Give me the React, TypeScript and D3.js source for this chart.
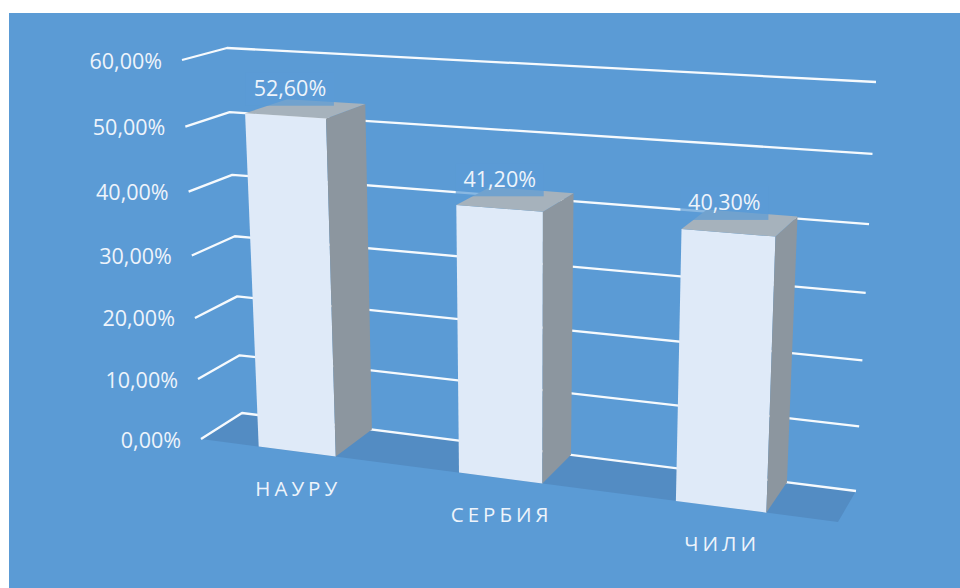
import React from 'react';
import * as d3 from 'd3';

const categories = ['НАУРУ', 'СЕРБИЯ', 'ЧИЛИ'];
const values = [52.6, 41.2, 40.3];
const ticks = [0, 10, 20, 30, 40, 50, 60];

const FONT = '"Open Sans", Lato, sans-serif';
const TEXT = '#eef4fb';

// the 3D plot box as it lands on screen
const frontLeft = { base: [201, 439], top: [182, 60] };
const frontRight = { base: [838, 522], top: [856, 97] };
const backLeft = { base: [242, 413], top: [227, 48] };
const backRight = { base: [856, 491], top: [876, 82] };

// perspective foreshortening along the category and the value axis
const warp = (t: number, c: number) => t / (t + c * (1 - t));

const band = d3.scaleBand<string>().domain(categories).range([0, 1]).paddingInner(0.606).paddingOuter(0.303);
const vScale = d3.scaleLinear().domain([0, 60]).range([0, 1]);
const fmt = d3.formatLocale({ decimal: ',', thousands: ' ', grouping: [3], currency: ['', ''], percent: '%' }).format('.2%');

const project = (t: number, value: number, z: number): [number, number] => {
  const u = warp(t, 1.128);
  const w = warp(vScale(value), 1.065);
  const edge = (c: { base: number[]; top: number[] }, i: number) => d3.interpolateNumber(c.base[i], c.top[i])(w);
  const at = (i: number) => {
    const front = d3.interpolateNumber(edge(frontLeft, i), edge(frontRight, i))(u);
    const back = d3.interpolateNumber(edge(backLeft, i), edge(backRight, i))(u);
    return d3.interpolateNumber(front, back)(z);
  };
  return [at(0), at(1)];
};

const poly = (pts: [number, number][]) => d3.line()(pts) + 'Z';

export default function App() {
  return (
    <svg width={960} height={588} style={{ position: 'absolute', left: 0, top: 0 }} fontFamily={FONT}>
      <rect width={960} height={588} fill="#fff" />
      <rect x={9} y={13} width={951} height={575} fill="#5b9bd5" />

      <path d={poly([project(0, 0, 0), project(1, 0, 0), project(1, 0, 1), project(0, 0, 1)])} fill="#538cc3" />

      {ticks.map(t => (
        <g key={t}>
          <path
            d={d3.line()([project(0, t, 0), project(0, t, 1), project(1, t, 1)]) as string}
            fill="none"
            stroke="#fff"
            strokeWidth={2.3}
            strokeOpacity={0.95}
            strokeLinejoin="round"
          />
          <text
            x={project(0, t, 0)[0] - 20}
            y={project(0, t, 0)[1] + 1}
            dy="0.35em"
            textAnchor="end"
            fontSize={21.5}
            fill={TEXT}
          >
            {fmt(t / 100)}
          </text>
        </g>
      ))}

      {categories.map((c, i) => {
        const t0 = band(c) as number;
        const t1 = t0 + band.bandwidth();
        const v = values[i];
        return (
          <g key={c}>
            <path d={poly([project(t0, v, 0), project(t1, v, 0), project(t1, 0, 0), project(t0, 0, 0)])} fill="#dfeaf8" />
            <path d={poly([project(t1, v, 0), project(t1, v, 1), project(t1, 0, 1), project(t1, 0, 0)])} fill="#8c969f" />
            <path d={poly([project(t0, v, 0), project(t0, v, 1), project(t1, v, 1), project(t1, v, 0)])} fill="#a6b2bc" />
          </g>
        );
      })}

      {categories.map((c, i) => {
        const t0 = band(c) as number;
        const t1 = t0 + band.bandwidth();
        const v = values[i];
        const corners = [project(t0, v, 0), project(t1, v, 0), project(t1, v, 1), project(t0, v, 1)];
        const cx = (d3.mean(corners, p => p[0]) as number) - 16;
        const cy = (d3.mean(corners, p => p[1]) as number) - 20;
        const a = project(t0, 0, 0);
        const b = project(t1, 0, 0);
        return (
          <g key={c}>
            <rect x={cx - 44} y={cy - 16} width={88} height={33} fill="#5b9bd5" fillOpacity={0.7} />
            <text x={cx} y={cy} dy="0.35em" textAnchor="middle" fontSize={21.5} fill={TEXT}>
              {fmt(v / 100)}
            </text>
            <text
              x={(a[0] + b[0]) / 2 + 1}
              y={(a[1] + b[1]) / 2 + 37}
              dy="0.35em"
              textAnchor="middle"
              fontSize={20.5}
              letterSpacing={4}
              fill={TEXT}
            >
              {c}
            </text>
          </g>
        );
      })}
    </svg>
  );
}
